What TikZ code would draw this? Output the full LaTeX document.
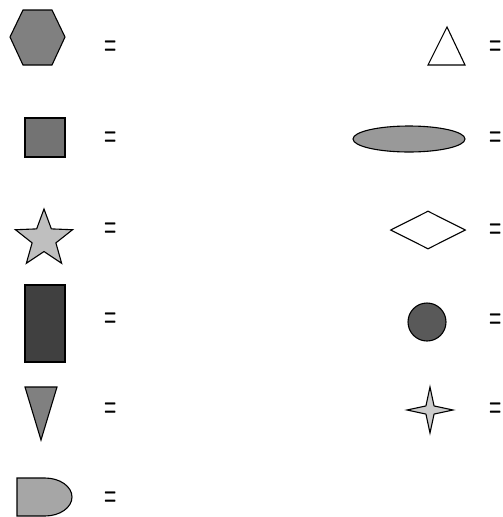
\documentclass[tikz,border=0pt]{standalone}
\usepackage{graphicx}
\usetikzlibrary{shapes.geometric}
\begin{document}
\begin{tikzpicture}[x=1pt,y=-1pt,
  shp/.style={draw, line width=1.1pt, inner sep=0pt},
  eqsign/.style={inner sep=0pt, font=\fontsize{14}{14}\selectfont\bfseries}]
\useasboundingbox (0,0) rectangle (503,517);
% left column
\draw[shp, fill=black!50] (10,37) -- (23,10) -- (52,10) -- (65,37) -- (52,65) -- (23,65) -- cycle;
\node[shp, fill=black!55, minimum width=40pt, minimum height=39pt] (square) at (45,137.5) {};
\node[shp, fill=black!25, star, star points=5, star point ratio=2.4, minimum size=60pt] (star) at (44,239) {};
\node[shp, fill=black!75, minimum width=40pt, minimum height=77pt] (bar) at (45,323.5) {};
\draw[shp, fill=black!50] (25,387) -- (57,387) -- (41,440) -- cycle;
\draw[shp, fill=black!35] (17,478) -- (45,478) arc[start angle=-90, end angle=90, x radius=27, y radius=19] -- (17,516) -- cycle;
% right column
\draw[shp, fill=white] (447,27) -- (465,65) -- (428,65) -- cycle;
\node[shp, fill=black!40, ellipse, minimum width=112pt, minimum height=26pt] (oval) at (409,139) {};
\node[shp, fill=white, diamond, minimum width=75pt, minimum height=38pt] (rhomb) at (428,230) {};
\node[shp, fill=black!65, circle, minimum size=38pt] (disc) at (427,322) {};
\node[shp, fill=black!20, star, star points=4, star point ratio=4, minimum size=46pt] (spark) at (430,410) {};
% equals signs
\node[eqsign] (eqhex) at (111,48) {\scalebox{1}[2.7]{=}};
\node[eqsign] (eqsquare) at (111,139.5) {\scalebox{1}[2.7]{=}};
\node[eqsign] (eqstar) at (111,230) {\scalebox{1}[2.7]{=}};
\node[eqsign] (eqbar) at (111,320) {\scalebox{1}[2.7]{=}};
\node[eqsign] (eqwedge) at (111,410) {\scalebox{1}[2.7]{=}};
\node[eqsign] (eqdee) at (111,499.5) {\scalebox{1}[2.7]{=}};
\node[eqsign] (eqtri) at (496,48) {\scalebox{1}[2.7]{=}};
\node[eqsign] (eqoval) at (496,139) {\scalebox{1}[2.7]{=}};
\node[eqsign] (eqrhomb) at (496,231) {\scalebox{1}[2.7]{=}};
\node[eqsign] (eqdisc) at (496,321) {\scalebox{1}[2.7]{=}};
\node[eqsign] (eqspark) at (496,410) {\scalebox{1}[2.7]{=}};
\end{tikzpicture}
\end{document}
